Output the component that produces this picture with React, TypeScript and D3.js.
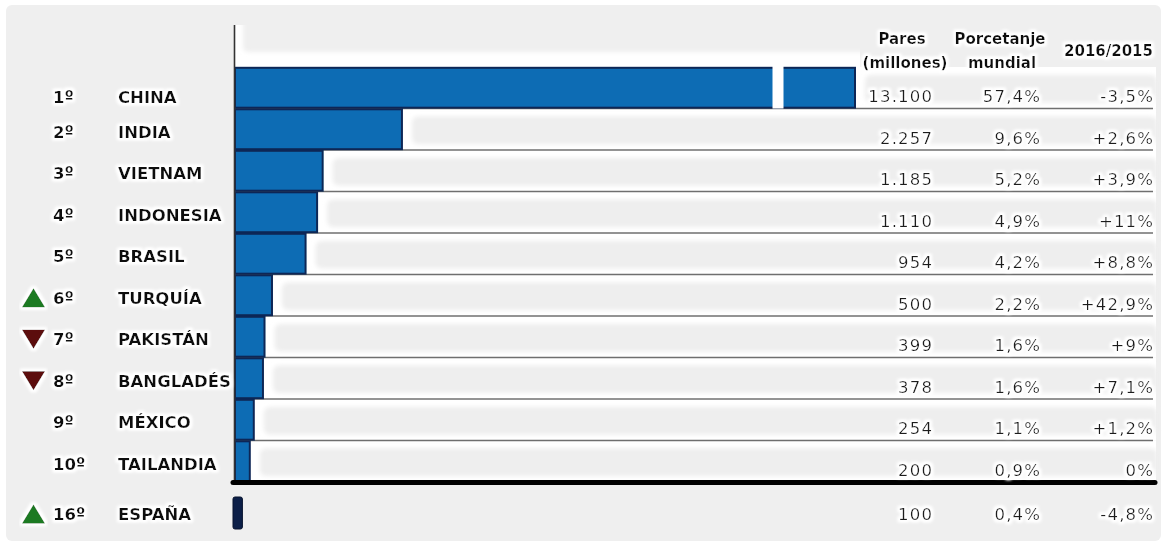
import React from "react";
import * as d3 from "d3";

const ranks = ["1º", "2º", "3º", "4º", "5º", "6º", "7º", "8º", "9º", "10º", "16º"];
const countries = ["CHINA", "INDIA", "VIETNAM", "INDONESIA", "BRASIL", "TURQUÍA", "PAKISTÁN", "BANGLADÉS", "MÉXICO", "TAILANDIA", "ESPAÑA"];
const pairs = [13100, 2257, 1185, 1110, 954, 500, 399, 378, 254, 200, 100];
const worldShare = [57.4, 9.6, 5.2, 4.9, 4.2, 2.2, 1.6, 1.6, 1.1, 0.9, 0.4];
const changeLabels = ["-3,5%", "+2,6%", "+3,9%", "+11%", "+8,8%", "+42,9%", "+9%", "+7,1%", "+1,2%", "0%", "-4,8%"];
const trends = ["", "", "", "", "", "up", "down", "down", "", "", "up"];
const headerPairs = ["Pares", "(millones)"];
const headerShare = ["Porcetanje", "mundial"];
const headerChange = "2016/2015";
const axisBreak = 7260;

const es = d3.formatLocale({ decimal: ",", thousands: ".", grouping: [3], currency: ["", " €"] });
const fmtPairs = es.format(",d");
const fmtShare = (v: number) => es.format(".1f")(v) + "%";

const W = 1163;
const H = 544;
const X0 = 235;
const RIGHT = 1153;
const COL_PAIRS = 932;
const COL_SHARE = 1040;

export default function App() {
  const maxV = d3.max(pairs) as number;
  const x = d3.scaleLinear().domain([0, axisBreak, maxV]).range([X0, 772, 855]);
  const top = countries.slice(0, 10);
  const y = d3.scaleBand<string>().domain(top).range([67, 482]).padding(0);
  const bw = y.bandwidth();
  const spainTop = 497;
  const spainH = 32;

  const numFont = { fontFamily: "DejaVu Sans", fontSize: 16.5, letterSpacing: 1.2, fill: "#1b1b1b" } as const;
  const lblFont = { fontFamily: "DejaVu Sans", fontWeight: 700, fontSize: 16.5, fill: "#111" } as const;
  const hdrFont = { fontFamily: "DejaVu Sans", fontWeight: 700, fontSize: 15, fill: "#111" } as const;

  const labelBase = (i: number) => {
    if (i >= 10) return spainTop + spainH / 2 + 7;
    const c = (y(countries[i]) as number) + bw / 2;
    return i === 0 ? c + 15 : c + 8.5;
  };
  const numBase = (i: number) => {
    if (i >= 10) return spainTop + spainH / 2 + 7;
    return (y(countries[i]) as number) + bw - 6.5;
  };

  return (
    <svg width={W} height={H} style={{ position: "absolute", left: 0, top: 0, display: "block" }}>
      <defs>
        <filter id="soft" x="-5%" y="-20%" width="110%" height="140%">
          <feGaussianBlur stdDeviation="2.2" />
        </filter>
        <filter id="barsoft" x="-5%" y="-20%" width="110%" height="140%">
          <feGaussianBlur stdDeviation="0.5" />
        </filter>
        <filter id="halo" x="-10%" y="-40%" width="120%" height="180%">
          <feMorphology in="SourceAlpha" operator="dilate" radius="2" result="d" />
          <feGaussianBlur in="d" stdDeviation="1.6" result="b" />
          <feFlood floodColor="#ffffff" />
          <feComposite in2="b" operator="in" result="w" />
          <feMerge>
            <feMergeNode in="w" />
            <feMergeNode in="w" />
            <feMergeNode in="SourceGraphic" />
          </feMerge>
        </filter>
      </defs>

      <rect x={0} y={0} width={W} height={H} fill="#ffffff" />
      <rect x={6} y={5} width={1155} height={536} rx={6} fill="#efefef" />

      {/* header strip */}
      <rect x={X0} y={25} width={625} height={42} fill="#ffffff" />
      <rect x={X0 + 8} y={18} width={640} height={34} rx={5} fill="#efefef" filter="url(#soft)" />

      {/* row backgrounds */}
      {top.map((c, i) => {
        const yt = y(c) as number;
        const xe = x(pairs[i]);
        return (
          <g key={"bg" + c}>
            <rect x={xe} y={yt} width={RIGHT + 3 - xe} height={bw} fill="#ffffff" />
            <rect x={xe + 10} y={yt + 8} width={RIGHT + 4 - xe - 10} height={bw - 14} rx={6} fill="#eeeeee" filter="url(#soft)" />
          </g>
        );
      })}

      {/* separators */}
      {top.slice(0, 9).map((c) => {
        const yb = (y(c) as number) + bw;
        return <line key={"sep" + c} x1={X0} x2={RIGHT} y1={yb} y2={yb} stroke="#6f6f6f" strokeWidth={1.6} />;
      })}

      {/* bars */}
      {top.map((c, i) => {
        const yt = y(c) as number;
        return (
          <rect
            key={"bar" + c}
            x={X0}
            y={yt + 0.8}
            width={x(pairs[i]) - X0}
            height={bw - 1.6}
            fill="#0c6cb4"
            stroke="#0a2856"
            strokeWidth={2}
            filter="url(#barsoft)"
          />
        );
      })}
      {/* axis break */}
      <rect x={x(axisBreak) + 0.5} y={(y(top[0]) as number) - 2} width={11} height={bw + 2} fill="#ffffff" />

      {/* axis */}
      <line x1={X0 - 0.5} x2={X0 - 0.5} y1={25} y2={482} stroke="#333" strokeWidth={1.6} />
      <line x1={233} x2={1155} y1={482.5} y2={482.5} stroke="#000" strokeWidth={5} strokeLinecap="round" />

      {/* España bar */}
      <rect
        x={233}
        y={spainTop}
        width={x(pairs[10]) - 233}
        height={spainH}
        rx={2}
        fill="#0c1f48"
        stroke="#07132e"
        strokeWidth={1}
      />

      {/* headers */}
      <g filter="url(#halo)" style={hdrFont}>
        <text x={902} y={44} textAnchor="middle">{headerPairs[0]}</text>
        <text x={905} y={68} textAnchor="middle">{headerPairs[1]}</text>
        <text x={1000} y={44} textAnchor="middle">{headerShare[0]}</text>
        <text x={1002} y={68} textAnchor="middle">{headerShare[1]}</text>
        <text x={RIGHT} y={56} textAnchor="end">{headerChange}</text>
      </g>

      {/* triangles */}
      {trends.map((t, i) => {
        if (!t) return null;
        const cy = labelBase(i) - 6;
        const w = 23;
        const h = 19;
        const cx = 33.5;
        const p = t === "up"
          ? `M${cx - w / 2},${cy + h / 2}L${cx + w / 2},${cy + h / 2}L${cx},${cy - h / 2}Z`
          : `M${cx - w / 2},${cy - h / 2}L${cx + w / 2},${cy - h / 2}L${cx},${cy + h / 2}Z`;
        return <path key={"tri" + i} d={p} fill={t === "up" ? "#1b7a23" : "#5c0b0b"} filter="url(#halo)" />;
      })}

      {/* left labels */}
      <g filter="url(#halo)" style={lblFont}>
        {countries.map((c, i) => (
          <g key={"lbl" + c}>
            <text x={53} y={labelBase(i)}>{ranks[i]}</text>
            <text x={118} y={labelBase(i)}>{c}</text>
          </g>
        ))}
      </g>

      {/* right numbers */}
      <g filter="url(#halo)" style={numFont}>
        {countries.map((c, i) => (
          <g key={"num" + c}>
            <text x={COL_PAIRS + 1.2} y={numBase(i)} textAnchor="end">{fmtPairs(pairs[i])}</text>
            <text x={COL_SHARE + 1.2} y={numBase(i)} textAnchor="end">{fmtShare(worldShare[i])}</text>
            <text x={RIGHT + 1.2} y={numBase(i)} textAnchor="end">{changeLabels[i]}</text>
          </g>
        ))}
      </g>
    </svg>
  );
}
